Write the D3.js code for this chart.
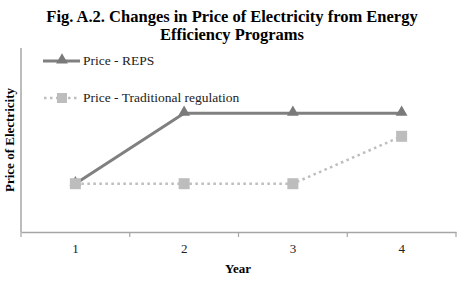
<!DOCTYPE html>
<html>
<head>
<meta charset="utf-8">
<script src="https://cdn.jsdelivr.net/npm/d3@7"></script>
<style>
  body { margin: 0; background: #fff; }
  text { font-family: "Liberation Serif", "Times New Roman", serif; }
</style>
</head>
<body>
<div id="chart"></div>
<script>
// chart data
var years = ["1", "2", "3", "4"];
var repsPrice = [1.05, 2.58, 2.58, 2.58];
var tradPrice = [1.05, 1.05, 1.05, 2.08];
var seriesNames = ["Price - REPS", "Price - Traditional regulation"];

var W = 462, H = 291;
var margin = {top: 48, right: 6, bottom: 59, left: 21},
    width = W - margin.left - margin.right,
    height = H - margin.top - margin.bottom;

var svg = d3.select("#chart").append("svg")
    .attr("width", W).attr("height", H);

svg.append("text")
    .attr("x", 232).attr("y", 22)
    .attr("text-anchor", "middle")
    .style("font-size", "16.5px").style("font-weight", "bold")
    .text("Fig. A.2. Changes in Price of Electricity from Energy");
svg.append("text")
    .attr("x", 232).attr("y", 40)
    .attr("text-anchor", "middle")
    .style("font-size", "16.5px").style("font-weight", "bold")
    .text("Efficiency Programs");

var g = svg.append("g")
    .attr("transform", "translate(" + margin.left + "," + margin.top + ")");

var x = d3.scaleBand().domain(years).range([0, width]);
var y = d3.scaleLinear().domain([0, 4]).range([height, 0]);

// x axis
var xAxis = g.append("g")
    .attr("transform", "translate(0," + height + ")")
    .call(d3.axisBottom(x).tickSize(0).tickPadding(12));
xAxis.select(".domain").attr("stroke", "#a6a6a6").attr("stroke-width", 1.5);
xAxis.selectAll("text").style("font-size", "13px").style("font-family", "Liberation Serif").attr("fill", "#222");
// tick marks at category boundaries
var bounds = d3.range(years.length + 1).map(function(i) { return i * x.step(); });
xAxis.selectAll(".bnd").data(bounds).enter().append("line")
    .attr("x1", function(d) { return d; }).attr("x2", function(d) { return d; })
    .attr("y1", 0).attr("y2", 5)
    .attr("stroke", "#a6a6a6").attr("stroke-width", 1.2);

// y axis
g.append("line")
    .attr("x1", 0).attr("x2", 0)
    .attr("y1", y(4)).attr("y2", height)
    .attr("stroke", "#a6a6a6").attr("stroke-width", 1.5);

svg.append("text")
    .attr("transform", "translate(14," + (margin.top + height / 2) + ") rotate(-90)")
    .attr("text-anchor", "middle")
    .style("font-size", "13px").style("font-weight", "bold")
    .text("Price of Electricity");

svg.append("text")
    .attr("x", 238).attr("y", 273)
    .attr("text-anchor", "middle")
    .style("font-size", "13px").style("font-weight", "bold")
    .text("Year");

var cx = function(d, i) { return x(years[i]) + x.bandwidth() / 2; };
var line = d3.line().x(cx).y(function(d) { return y(d); });
var tri = d3.symbol().type(d3.symbolTriangle).size(60);

// REPS
g.append("path").datum(repsPrice)
    .attr("fill", "none").attr("stroke", "#808080")
    .attr("stroke-width", 3)
    .attr("d", line);
g.selectAll(".tri").data(repsPrice).enter().append("path")
    .attr("transform", function(d, i) { return "translate(" + cx(d, i) + "," + (y(d) - 1) + ")"; })
    .attr("d", tri)
    .attr("fill", "#7a7a7a");

// traditional regulation
g.append("path").datum(tradPrice)
    .attr("fill", "none").attr("stroke", "#bdbdbd")
    .attr("stroke-width", 2.5).attr("stroke-dasharray", "2.5,3.5")
    .attr("d", line);
g.selectAll(".sq").data(tradPrice).enter().append("rect")
    .attr("x", function(d, i) { return cx(d, i) - 5.5; })
    .attr("y", function(d) { return y(d) - 5.5; })
    .attr("width", 11).attr("height", 11)
    .attr("fill", "#bdbdbd");

// legend
var leg = svg.append("g");
leg.append("line").attr("x1", 43).attr("x2", 80).attr("y1", 61).attr("y2", 61)
    .attr("stroke", "#808080").attr("stroke-width", 3);
leg.append("path").attr("transform", "translate(62,60)").attr("d", tri).attr("fill", "#7a7a7a");
leg.append("text").attr("x", 83).attr("y", 65).style("font-size", "13.5px").attr("fill", "#222").text(seriesNames[0]);

leg.append("line").attr("x1", 44).attr("x2", 80).attr("y1", 98).attr("y2", 98)
    .attr("stroke", "#bdbdbd").attr("stroke-width", 2.5).attr("stroke-dasharray", "2.5,3.5");
leg.append("rect").attr("x", 57).attr("y", 93).attr("width", 10).attr("height", 10).attr("fill", "#bdbdbd");
leg.append("text").attr("x", 83).attr("y", 102).style("font-size", "13.5px").attr("fill", "#222").text(seriesNames[1]);
</script>
</body>
</html>
